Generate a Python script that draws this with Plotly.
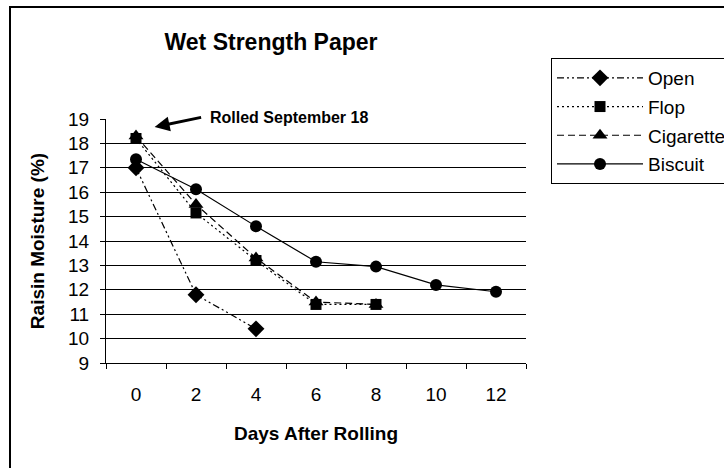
import plotly.graph_objects as go

# Days after rolling (category axis) and raisin moisture (%) per drying method
days = ["0", "2", "4", "6", "8", "10", "12"]
open_moist = [17.0, 11.8, 10.4]
flop_moist = [18.2, 15.15, 13.2, 11.4, 11.4]
cigarette_moist = [18.3, 15.5, 13.3, 11.5, 11.4]
biscuit_moist = [17.35, 16.12, 14.6, 13.15, 12.95, 12.2, 11.92]

y_ticks = list(range(9, 20))

FONT = "Arial, Liberation Sans, sans-serif"

series = [
    ("Open", open_moist, "7px,3px,2px,3px,2px,3px", "diamond", 13),
    ("Flop", flop_moist, "2px,3px", "square", 11),
    ("Cigarette", cigarette_moist, "7px,4px", "triangle-up", 13),
    ("Biscuit", biscuit_moist, "solid", "circle", 12),
]

fig = go.Figure()
for i, (name, vals, dash, symbol, size) in enumerate(series):
    fig.add_trace(go.Scatter(
        x=days[:len(vals)], y=vals, name=name, mode="lines+markers",
        line=dict(color="black", width=1.2, dash=dash),
        marker=dict(symbol=symbol, size=size, color="black"),
        legendgroup=f"g{i}",
    ))

# plot area spans 106..526 px horizontally and 119..363 px vertically
PW, PH = 420, 244

fig.update_layout(
    width=724, height=468,
    margin=dict(l=106, r=198, t=119, b=105, autoexpand=False),
    paper_bgcolor="white", plot_bgcolor="white",
    font=dict(family=FONT, size=19, color="black"),
    showlegend=True,
    title=dict(text="<b>Wet Strength Paper</b>", x=271 / 724, xanchor="center",
               y=1 - 42 / 468, yanchor="middle", font=dict(size=23)),
    legend=dict(x=(551 - 106) / PW, y=1 + (119 - 58) / PH, xanchor="left", yanchor="top",
                bgcolor="white", bordercolor="black", borderwidth=1,
                font=dict(size=19), itemwidth=86, tracegroupgap=1),
    xaxis=dict(type="category", categoryorder="array", categoryarray=days,
               range=[-0.5, 6.5], tickson="boundaries", ticks="outside",
               ticklen=5, tickcolor="black", showline=True, linecolor="black",
               linewidth=1, showgrid=False, zeroline=False,
               tickfont=dict(size=19), ticklabelstandoff=14,
               title=dict(text="<b>Days After Rolling</b>", font=dict(size=19), standoff=22)),
    yaxis=dict(range=[9, 19], tickvals=y_ticks, ticks="outside", ticklen=5,
               tickcolor="black", showline=True, linecolor="black", linewidth=1,
               showgrid=True, gridcolor="black", gridwidth=1, zeroline=False,
               tickfont=dict(size=19), ticklabelstandoff=7,
               title=dict(text="<b>Raisin Moisture (%)</b>", font=dict(size=19), standoff=18)),
)

# Outer chart frame
fig.add_shape(type="rect", xref="paper", yref="paper",
              x0=-(106 - 10) / PW, x1=1.7, y0=-1, y1=1 + (119 - 7) / PH,
              line=dict(color="black", width=2), layer="below")

# Arrow and label marking the rolling date
fig.add_annotation(x=0.31, y=18.67, xref="x", yref="y", text="", showarrow=True,
                   ax=48, ay=-10, arrowhead=2, arrowsize=1, arrowwidth=3,
                   arrowcolor="black")
fig.add_annotation(x=(208 - 106) / PW, y=1 + (119 - 117) / PH, xref="paper", yref="paper",
                   text="<b>Rolled September 18</b>", showarrow=False,
                   xanchor="left", yanchor="middle", font=dict(size=16))

fig.write_html("out.html")
